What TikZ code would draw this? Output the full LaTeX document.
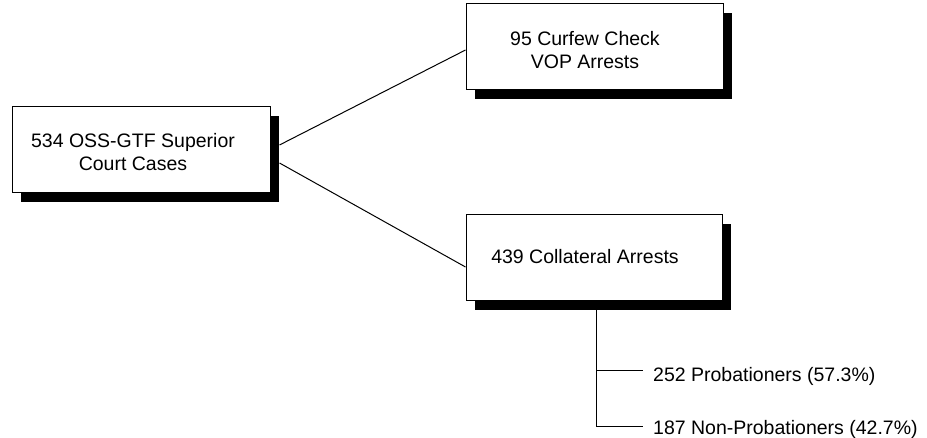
\documentclass[tikz,border=0pt]{standalone}
\usepackage{fontspec}
\setmainfont{Liberation Sans}
\usetikzlibrary{shadows,calc}
\begin{document}
\begin{tikzpicture}[x=1pt,y=-1pt,
  every node/.style={font=\fontsize{19.5}{23.5}\selectfont, inner sep=0pt},
  box/.style={draw=black, line width=1pt, fill=white, minimum height=86pt,
    drop shadow={shadow xshift=9pt, shadow yshift=-9pt, fill=black, opacity=1}},
  conn/.style={draw=black, line width=1pt}
]
\useasboundingbox (0,0) rectangle (927,438);
% boxes
\node[box, minimum width=258pt] (L) at (141,150) {};
\node[box, minimum width=257pt] (T) at (594.5,47) {};
\node[box, minimum width=256pt] (B) at (594,258) {};
% box texts
\node[align=center] (Lt) at (133,152) {534 OSS-GTF Superior\\Court Cases};
\node[align=center] (Tt) at (585,50) {95 Curfew Check\\VOP Arrests};
\node (Bt) at (585,256.5) {439 Collateral Arrests};
% leaf texts
\node[anchor=base west] (p1) at (653,382) {252 Probationers (57.3\%)};
\node[anchor=base west] (p2) at (653,435) {187 Non-Probationers (42.7\%)};
% connectors
\draw[conn] ($(L.east)+(9,-5)$) -- ($(T.west)+(0,3)$);
\draw[conn] ($(L.east)+(9,13)$) -- ($(B.west)+(0,9)$);
\coordinate (v0) at ($(B.south)+(2,9)$);
\coordinate (b1) at ($(p1.west)+(-10,0)$);
\coordinate (b2) at ($(p2.west)+(-10,0)$);
\draw[conn] (v0) |- (b2 |- 0,427) -- (b2 |- 0,427);
\draw[conn] (v0 |- 0,371) -- (b1 |- 0,371);
\end{tikzpicture}
\end{document}
